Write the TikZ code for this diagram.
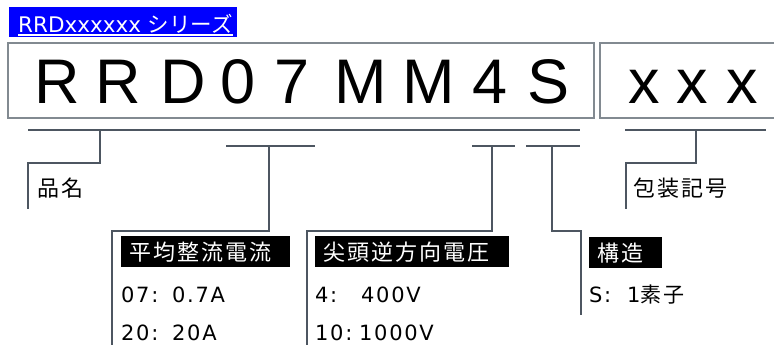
\documentclass[tikz,border=0pt]{standalone}
\usepackage{fontspec}
\setmainfont{DejaVu Sans}
\newfontfamily\jp{Noto Sans CJK JP}
\newfontfamily\jpl[LetterSpace=9]{Noto Sans CJK JP}
\newfontfamily\labf[LetterSpace=8]{DejaVu Sans}
\newfontfamily\arialf{Liberation Sans}
\definecolor{linec}{HTML}{4D5661}
\definecolor{boxc}{HTML}{828A91}
\definecolor{pureblue}{HTML}{0000FF}
\begin{document}
\begin{tikzpicture}[x=1pt,y=-1pt,
  conn/.style={draw=linec, line width=2.2pt},
  codebox/.style={draw=boxc, line width=1.1pt},
  big/.style={font=\arialf\fontsize{63}{63}\selectfont, inner sep=0pt, anchor=base},
  jptxt/.style={font=\jpl\fontsize{22}{22}\selectfont, inner sep=0pt, anchor=base west},
  valtxt/.style={font=\labf\fontsize{21}{21}\selectfont, inner sep=0pt, anchor=base west},
  blackbox/.style={fill=black, text=white, anchor=north west, inner xsep=8pt, inner ysep=0pt,
     minimum height=31pt, align=left, font=\jpl\fontsize{22}{22}\selectfont}
]
\useasboundingbox (0,0) rectangle (774,345);
% series tag
\node[fill=pureblue, anchor=north west, minimum width=228pt, minimum height=30pt, inner sep=0pt] (tag) at (9,7) {};
\node[font=\fontsize{21.5}{21.5}\selectfont, text=white, inner sep=0pt, anchor=base west] (tagt) at (18,32.5) {RRDxxxxxx {\jp シリーズ}};
\draw[white, line width=1.1pt] ([yshift=-2.5pt]tagt.base west) -- ([yshift=-2.5pt]tagt.base east);
% code boxes
\draw[codebox] (8,43) rectangle (594,118);
\draw[codebox] (600,43) rectangle (777,118);
\node[big] (c1) at (57.5,103) {R};
\node[big] (c2) at (118.5,103) {R};
\node[big] (c3) at (183,103) {D};
\node[big] (c4) at (238,103) {0};
\node[big] (c5) at (292,103) {7};
\node[big] (c6) at (361,103) {M};
\node[big] (c7) at (429,103) {M};
\node[big] (c8) at (490,103) {4};
\node[big] (c9) at (548.5,103) {S};
\node[big] (x1) at (644,103) {x};
\node[big] (x2) at (692.5,103) {x};
\node[big] (x3) at (742,103) {x};
% brackets
\coordinate (a1) at (28,130); \coordinate (a2) at (580,130);
\draw[conn] (a1) -- (a2);
\draw[conn] (100,130) -- (100,163) -- (28,163) -- (28,209);
\draw[conn] (226,146) -- (315,146);
\draw[conn] (269,146) -- (269,231) -- (112,231) -- (112,346);
\draw[conn] (472,146) -- (515,146);
\draw[conn] (492,146) -- (492,231) -- (307,231) -- (307,346);
\draw[conn] (526,146) -- (580,146);
\draw[conn] (552,146) -- (552,231) -- (581,231) -- (581,315);
\draw[conn] (625,130) -- (766,130);
\draw[conn] (696,130) -- (696,163) -- (626,163) -- (626,209);
% labels
\node[jptxt] (hm) at (37,196) {品名};
\node[jptxt] (hs) at (633,196) {包装記号};
\node[blackbox, text width=153pt] (b1) at (121,236) {平均整流電流};
\node[blackbox, text width=178pt] (b2) at (315,236) {尖頭逆方向電圧};
\node[blackbox, text width=57pt] (b3) at (589,237) {構造};
% values
\node[valtxt] (v1) at (121,302) {07:};
\node[valtxt] (v1b) at (172,302) {0.7A};
\node[valtxt] (v2) at (121,340.5) {20:};
\node[valtxt] (v2b) at (172,340.5) {20A};
\node[valtxt] (v3) at (315,302) {4:};
\node[valtxt] (v3b) at (361,302) {400V};
\node[valtxt] (v4) at (315,340.5) {10:};
\node[valtxt] (v4b) at (359,340.5) {1000V};
\node[valtxt] (v5) at (589,302) {S:};
\node[valtxt] (v5b) at (627,302) {1{\jpl 素子}};
\end{tikzpicture}
\end{document}
